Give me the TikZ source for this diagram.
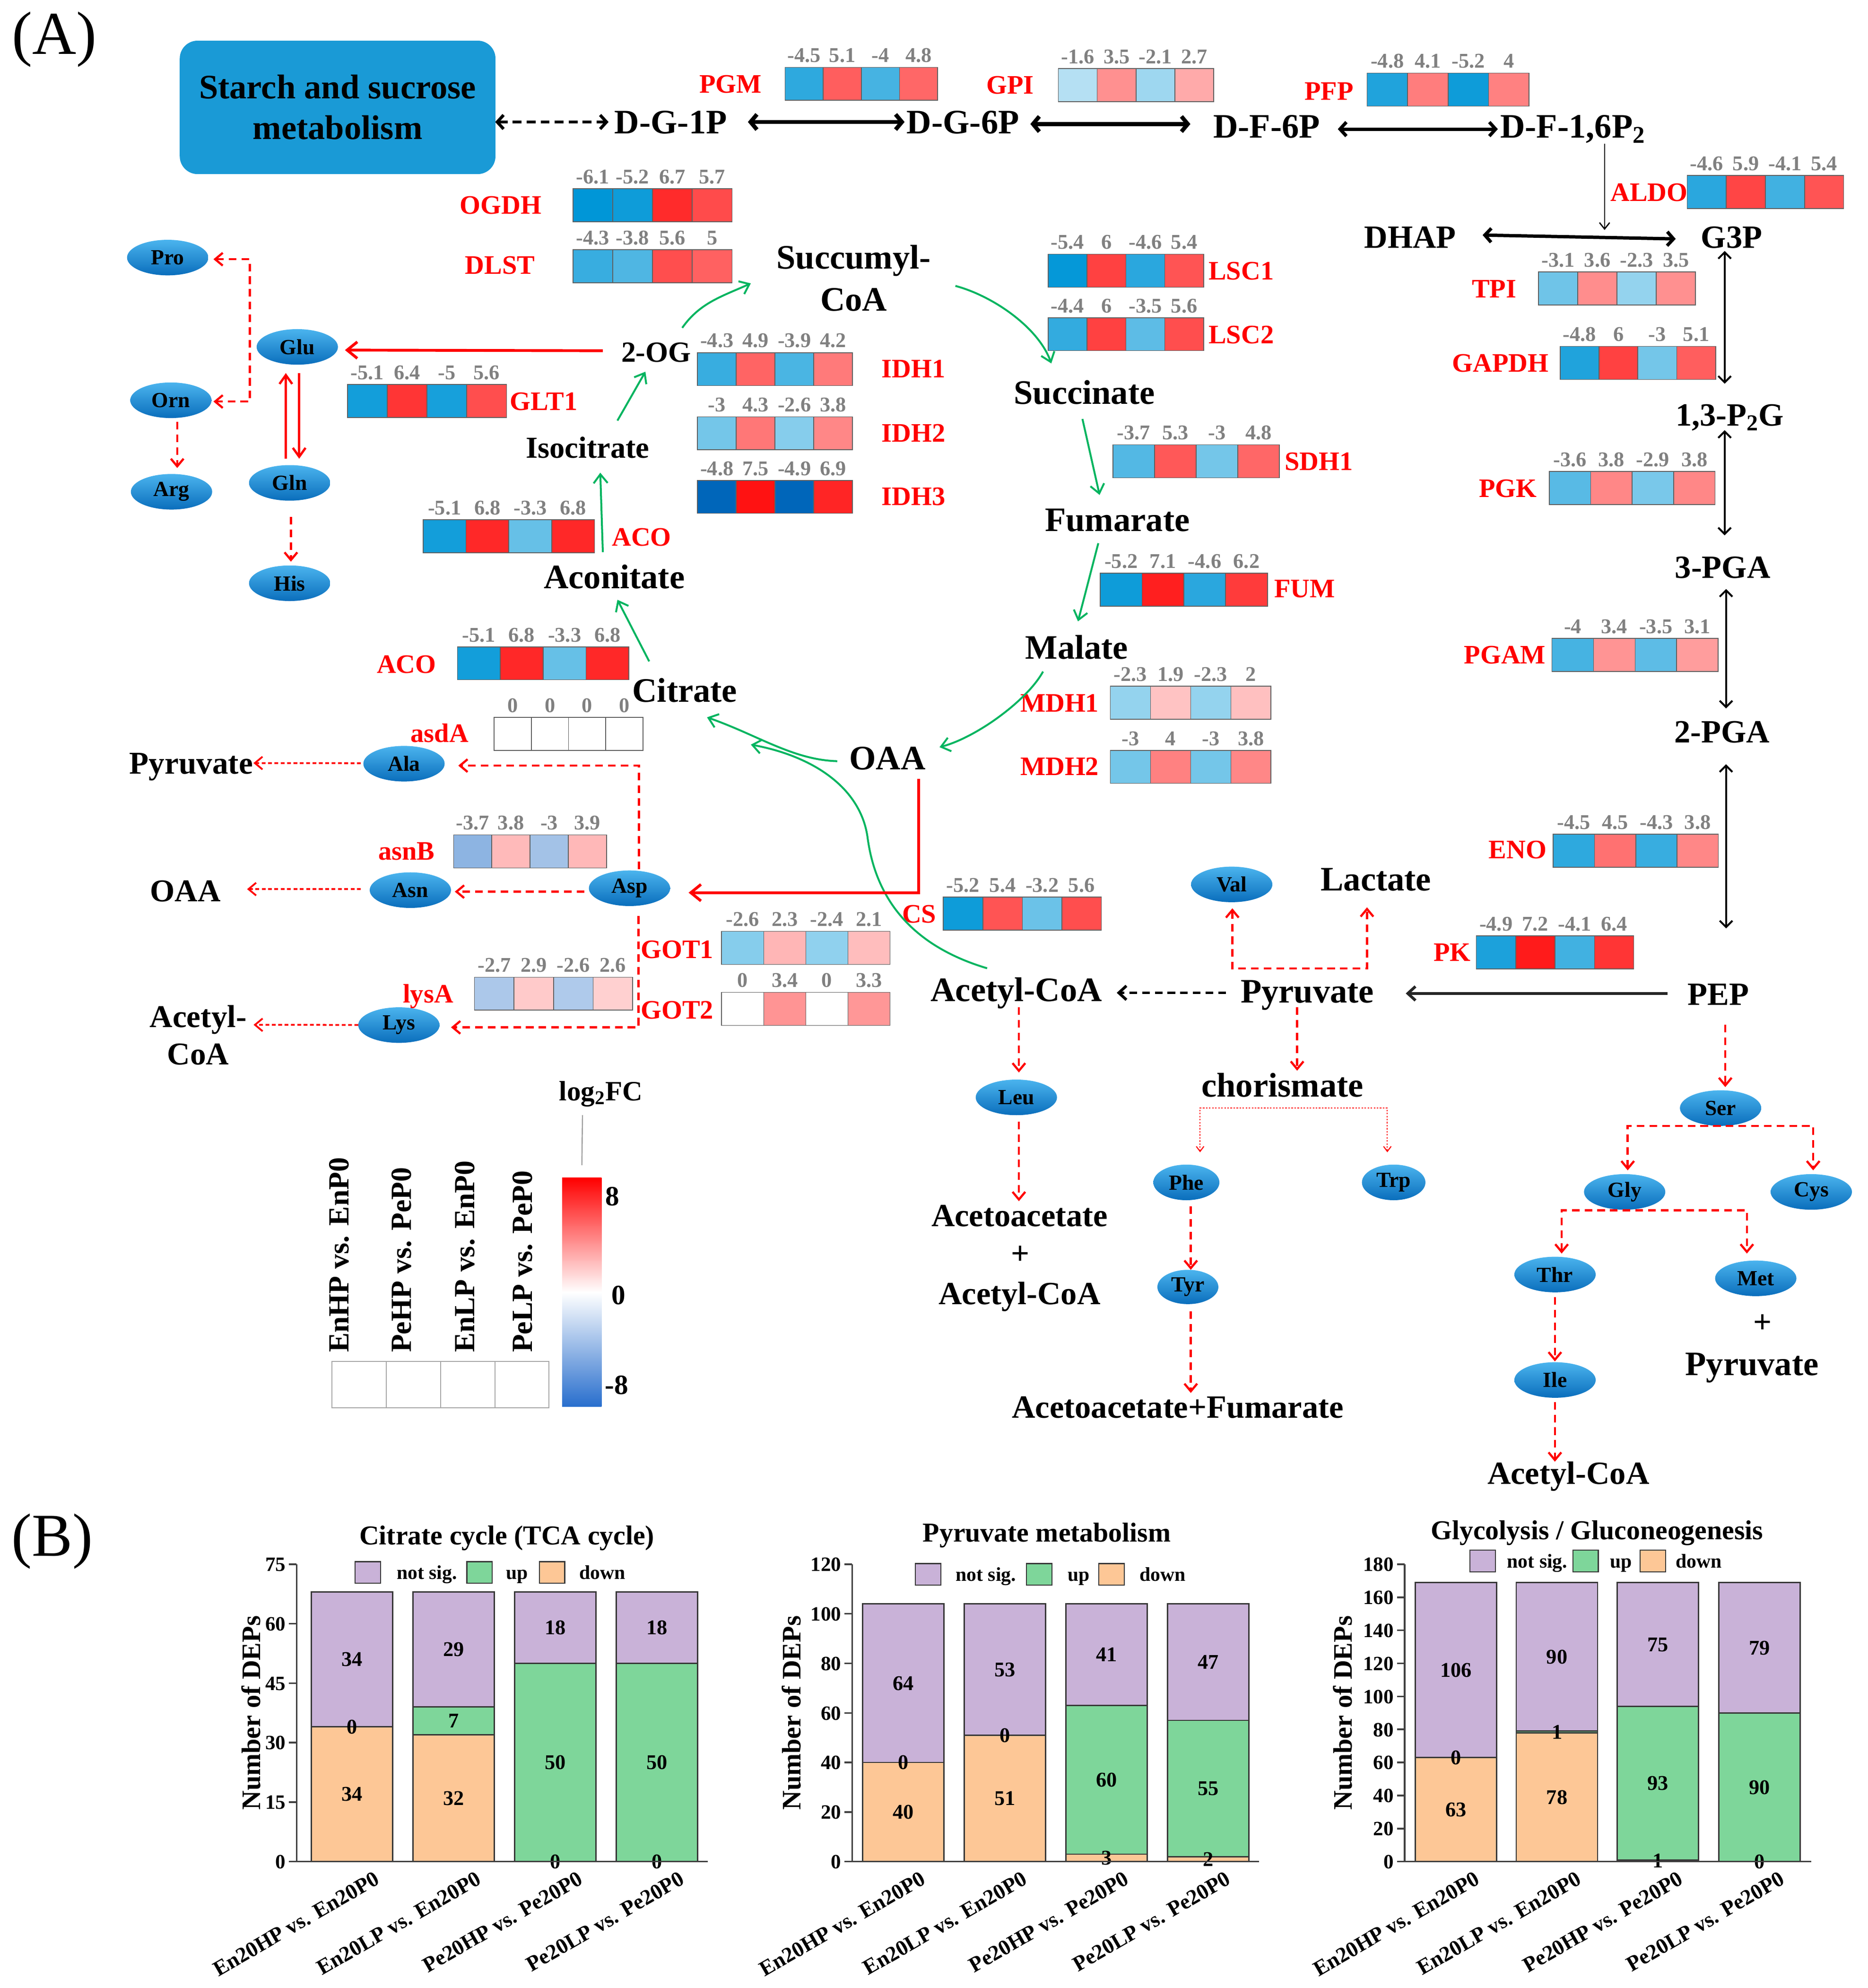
\documentclass[tikz,border=0pt]{standalone}
\usepackage{fontspec}
\setmainfont{Liberation Serif}
\usetikzlibrary{arrows.meta,shapes.geometric,calc}

\newcommand{\fsz}[1]{\fontsize{#1}{#1}\selectfont}
\definecolor{hmred}{RGB}{255,18,18}
\definecolor{hmblue}{RGB}{0,150,215}
\definecolor{hmline}{RGB}{95,95,95}
\definecolor{hmgray}{RGB}{128,128,128}
\definecolor{tcagreen}{RGB}{0,180,95}
\definecolor{starchblue}{RGB}{26,154,214}
\definecolor{aatop}{RGB}{75,180,238}
\definecolor{aabot}{RGB}{10,110,188}
\definecolor{cns}{RGB}{201,178,216}
\definecolor{cup}{RGB}{126,214,154}
\definecolor{cdown}{RGB}{253,199,150}
\definecolor{barlinec}{RGB}{55,55,55}
\definecolor{cbred}{RGB}{255,0,0}
\definecolor{cbblue}{RGB}{40,110,205}

\newcommand{\hmbs}{5.5}
\newcommand{\hmrs}{7.5}
\newcommand{\hmsetcc}[1]{%
  \pgfmathsetmacro{\hmp}{min(100,abs(#1)/\hmrs*100)}%
  \pgfmathsetmacro{\hmq}{min(100,abs(#1)/\hmbs*100)}%
  \ifdim #1pt>0pt\relax\colorlet{hmc}{hmred!\hmp!white}\else\colorlet{hmc}{hmblue!\hmq!white}\fi}
\newcommand{\hmap}[8]{%
  \foreach \hi/\hv in {1/#5,2/#6,3/#7,4/#8}{%
    \hmsetcc{\hv}%
    \node[hmcell, minimum width=#4, fill=hmc, anchor=north west] (#1c\hi) at ({#2+(\hi-1)*#4},#3) {};
    \node[hmval, anchor=base] (#1v\hi) at ([yshift=4pt]#1c\hi.north) {\hv};
  }}
\newcommand{\stkbar}[7]{%
  \pgfmathsetmacro{\sbA}{1465-(#5)*(#4)}%
  \pgfmathsetmacro{\sbB}{1465-(#5+#6)*(#4)}%
  \pgfmathsetmacro{\sbC}{1465-(#5+#6+#7)*(#4)}%
  \pgfmathsetmacro{\sbX}{#2+#3/2}%
  \pgfmathsetmacro{\sbR}{#2+#3}%
  \draw[barbox, fill=cdown] (#2,1465) rectangle (\sbR,\sbA);
  \draw[barbox, fill=cup] (#2,\sbA) rectangle (\sbR,\sbB);
  \draw[barbox, fill=cns] (#2,\sbB) rectangle (\sbR,\sbC);
  \node[barnum] (#1d) at (\sbX,{(1465+\sbA)/2}) {#5};
  \node[barnum] (#1u) at (\sbX,{(\sbA+\sbB)/2}) {#6};
  \node[barnum] (#1n) at (\sbX,{(\sbB+\sbC)/2}) {#7};
}
\newcommand{\chaxis}[5]{%
  \draw[axisl] (#2,1231) -- (#2,1465) -- (#3,1465);
  \foreach \tk in {0,#4,...,#5}{%
    \pgfmathsetmacro{\tky}{1465-(\tk/#5)*234}%
    \draw[axisl] (#2,\tky) -- ++(-6,0) node[ticklab, anchor=east] (#1t\tk) {\tk};}}

\tikzset{
  met/.style={font=\bfseries\fsz{27}, inner sep=0pt, text height=19pt, text depth=1pt},
  metb/.style={font=\bfseries\fsz{25.5}, inner sep=0pt, text height=18pt, text depth=1pt},
  metml/.style={align=center, inner sep=0pt},
  enz/.style={font=\bfseries\fsz{21}, text=red, inner sep=0pt, text height=14pt, text depth=0.5pt},
  hmcell/.style={draw=hmline, line width=0.6pt, minimum height=26, inner sep=0pt, outer sep=0pt},
  hmval/.style={font=\bfseries\fsz{16.5}, text=hmgray, inner sep=0pt},
  aa/.style={ellipse, minimum width=64, minimum height=28, inner sep=0pt, top color=aatop, bottom color=aabot, font=\bfseries\fsz{17}},
  starchbox/.style={rounded corners=14pt, fill=starchblue, minimum width=248.5, minimum height=105, align=center, inner sep=0pt, font=\bfseries\fontsize{27}{32}\selectfont},
  panel/.style={font=\fsz{48}, inner sep=0pt, text height=34pt, text depth=10pt},
  garr/.style={draw=tcagreen, line width=1.5pt, >={Straight Barb[length=7pt,width=11pt]}, ->},
  rsolid/.style={draw=red, line width=2.2pt, >={Straight Barb[length=8pt,width=13pt]}, ->},
  rthin/.style={draw=red, line width=1.8pt, >={Straight Barb[length=7pt,width=10pt]}, ->},
  rdash/.style={draw=red, line width=1.7pt, dash pattern=on 6pt off 4pt, >={Straight Barb[length=6pt,width=10pt]}, ->},
  rfine/.style={draw=red, line width=1.4pt, dash pattern=on 3pt off 2pt, >={Straight Barb[length=6pt,width=10pt]}, ->},
  rdot/.style={draw=red, line width=0.8pt, dash pattern=on 1.2pt off 1.2pt, >={Straight Barb[length=4pt,width=6pt]}, ->},
  bthick/.style={draw=black, line width=3.2pt, >={Straight Barb[length=5pt,width=12pt]}, <->},
  bmid/.style={draw=black, line width=2.6pt, >={Straight Barb[length=5pt,width=11pt]}, <->},
  bvert/.style={draw=black, line width=1.5pt, >={Straight Barb[length=5pt,width=10pt]}, <->},
  bthin/.style={draw=black, line width=1pt, >={Straight Barb[length=5pt,width=8pt]}, ->},
  bdashed/.style={draw=black, line width=2.4pt, dash pattern=on 7pt off 4pt, >={Straight Barb[length=5pt,width=11pt]}, <->},
  bsolid/.style={draw=black!85, line width=2.2pt, >={Straight Barb[length=6pt,width=11pt]}, ->},
  bdash/.style={draw=black, line width=2.2pt, dash pattern=on 6pt off 4pt, >={Straight Barb[length=6pt,width=11pt]}, ->},
  barbox/.style={draw=barlinec, line width=1pt},
  barnum/.style={font=\bfseries\fsz{16.5}, inner sep=0pt, text height=11pt, text depth=0pt},
  axisl/.style={draw=black!75, line width=1.3pt},
  ticklab/.style={font=\bfseries\fsz{16}, inner sep=2pt, text height=11pt, text depth=0pt},
  ylab/.style={font=\bfseries\fsz{21}, rotate=90, inner sep=0pt},
  xlab/.style={font=\bfseries\fsz{17}, rotate=30, anchor=north east, inner sep=0pt},
  ctitle/.style={font=\bfseries\fsz{21.5}, inner sep=0pt, text height=15pt, text depth=0pt},
  legsq/.style={draw=barlinec, line width=0.8pt, minimum width=20, minimum height=17, inner sep=0pt},
  legtxt/.style={font=\bfseries\fsz{15.5}, inner sep=0pt, text height=10.5pt, text depth=0pt},
  collab/.style={font=\bfseries\fsz{23}, rotate=90, anchor=west, inner sep=0pt},
  legcell/.style={draw=gray!70, line width=0.8pt, minimum width=42.7, minimum height=36.5, inner sep=0pt, anchor=north west},
}

\begin{document}
\begin{tikzpicture}[x=1pt,y=-1pt]
\useasboundingbox (0,0) rectangle (1470,1564.5);
\fill[white] (0,0) rectangle (1470,1564.5);

% ---------------- panel A ----------------
\node[panel] (labA) at (42.8,30.5) {(A)};
\node[starchbox] (starch) at (265.75,84.5) {Starch and sucrose\\metabolism};

% heatmaps
\hmap{PGM}{618}{53}{30}{-4.5}{5.1}{-4}{4.8}
\hmap{GPI}{833}{54}{30.6}{-1.6}{3.5}{-2.1}{2.7}
\hmap{PFP}{1076}{57.5}{31.9}{-4.8}{4.1}{-5.2}{4}
\hmap{ALDO}{1328}{138}{30.8}{-4.6}{5.9}{-4.1}{5.4}
\hmap{OGDH}{451}{148.5}{31.3}{-6.1}{-5.2}{6.7}{5.7}
\hmap{DLST}{451}{196.5}{31.3}{-4.3}{-3.8}{5.6}{5}
\hmap{LSCa}{825}{200}{30.6}{-5.4}{6}{-4.6}{5.4}
\hmap{LSCb}{825}{250}{30.6}{-4.4}{6}{-3.5}{5.6}
\hmap{IDHa}{549}{277.5}{30.5}{-4.3}{4.9}{-3.9}{4.2}
\hmap{IDHb}{549}{328}{30.5}{-3}{4.3}{-2.6}{3.8}
\begingroup
\renewcommand{\hmbs}{4.6}\definecolor{hmblue}{RGB}{0,102,186}
\hmap{IDHc}{549}{378}{30.5}{-4.8}{7.5}{-4.9}{6.9}
\endgroup
\hmap{SDH}{876}{350}{32.75}{-3.7}{5.3}{-3}{4.8}
\hmap{FUM}{866}{451}{32.9}{-5.2}{7.1}{-4.6}{6.2}
\hmap{MDHa}{874}{540}{31.6}{-2.3}{1.9}{-2.3}{2}
\hmap{MDHb}{874}{590.5}{31.6}{-3}{4}{-3}{3.8}
\hmap{ACOa}{333}{409}{33.75}{-5.1}{6.8}{-3.3}{6.8}
\hmap{ACOb}{360}{509}{33.75}{-5.1}{6.8}{-3.3}{6.8}
\hmap{asdA}{389}{564.5}{29.25}{0}{0}{0}{0}
\begingroup
\renewcommand{\hmrs}{13}\renewcommand{\hmbs}{3.7}\definecolor{hmblue}{RGB}{141,180,226}
\hmap{asnB}{357}{657}{30.1}{-3.7}{3.8}{-3}{3.9}
\hmap{lysA}{373.5}{769}{31.1}{-2.7}{2.9}{-2.6}{2.6}
\endgroup
\hmap{GOTa}{568}{733}{33.15}{-2.6}{2.3}{-2.4}{2.1}
\hmap{GOTb}{568}{781}{33.15}{0}{3.4}{0}{3.3}
\hmap{CS}{742.5}{706}{31.1}{-5.2}{5.4}{-3.2}{5.6}
\hmap{GLT}{273.5}{302.6}{31.3}{-5.1}{6.4}{-5}{5.6}
\hmap{TPI}{1211}{214}{30.9}{-3.1}{3.6}{-2.3}{3.5}
\hmap{GAPDH}{1228}{272.6}{30.6}{-4.8}{6}{-3}{5.1}
\hmap{PGK}{1219.4}{371}{32.65}{-3.6}{3.8}{-2.9}{3.8}
\hmap{PGAM}{1221.6}{502.4}{32.7}{-4}{3.4}{-3.5}{3.1}
\hmap{ENO}{1222.5}{656.5}{32.5}{-4.5}{4.5}{-4.3}{3.8}
\hmap{PK}{1162}{736.5}{31}{-4.9}{7.2}{-4.1}{6.4}

% enzyme labels
\node[enz] (lPGM) at (575,66.5) {PGM};
\node[enz] (lGPI) at (795,67) {GPI};
\node[enz] (lPFP) at (1046,72) {PFP};
\node[enz] (lALDO) at (1298,151.5) {ALDO};
\node[enz] (lOGDH) at (394,161.5) {OGDH};
\node[enz] (lDLST) at (393.5,209) {DLST};
\node[enz] (lLSCa) at (977,213.5) {LSC1};
\node[enz] (lLSCb) at (977,263.5) {LSC2};
\node[enz] (lIDHa) at (719,290.5) {IDH1};
\node[enz] (lIDHb) at (719,341) {IDH2};
\node[enz] (lIDHc) at (719,391) {IDH3};
\node[enz] (lSDH) at (1038,363.5) {SDH1};
\node[enz] (lFUM) at (1027,463.5) {FUM};
\node[enz] (lMDHa) at (834,553.5) {MDH1};
\node[enz] (lMDHb) at (834,603.5) {MDH2};
\node[enz] (lACOa) at (505,423) {ACO};
\node[enz] (lACOb) at (320,523) {ACO};
\node[enz] (lasdA) at (346,577.5) {asdA};
\node[enz] (lasnB) at (320,670) {asnB};
\node[enz] (llysA) at (337,782.5) {lysA};
\node[enz] (lGOTa) at (533,747.5) {GOT1};
\node[enz] (lGOTb) at (533,795) {GOT2};
\node[enz] (lCS) at (723.5,719.5) {CS};
\node[enz] (lGLT) at (428,316) {GLT1};
\node[enz] (lTPI) at (1176,227.5) {TPI};
\node[enz] (lGAPDH) at (1181,286) {GAPDH};
\node[enz] (lPGK) at (1187,384.5) {PGK};
\node[enz] (lPGAM) at (1184.5,515.5) {PGAM};
\node[enz] (lENO) at (1194.5,669) {ENO};
\node[enz] (lPK) at (1143,749.5) {PK};

% metabolites
\node[met] (dg1p) at (528,96) {D-G-1P};
\node[met] (dg6p) at (758,96) {D-G-6P};
\node[met] (df6p) at (997,99.5) {D-F-6P};
\node[met] (df16p) at (1238,99.5) {D-F-1,6P\textsubscript{2}};
\node[metb] (dhap) at (1110,186.5) {DHAP};
\node[metb] (g3p) at (1363,186.5) {G3P};
\node[metb] (p13) at (1361.5,326.5) {1,3-P\textsubscript{2}G};
\node[metb] (pga3) at (1356,446.5) {3-PGA};
\node[metb] (pga2) at (1355.5,576) {2-PGA};
\node[metb] (pep) at (1352.5,782.5) {PEP};
\node[met] (pyr) at (1029,780) {Pyruvate};
\node[met] (accoa) at (800,779) {Acetyl-CoA};
\node[met] (lact) at (1083,692) {Lactate};
\node[metml, font=\bfseries\fontsize{27}{33}\selectfont] (succoa) at (672,219) {Succumyl-\\CoA};
\node[met, font=\bfseries\fsz{23}] (og2) at (516.5,276) {2-OG};
\node[met, font=\bfseries\fsz{24}] (isocit) at (462.5,351.5) {Isocitrate};
\node[met] (aconit) at (483.5,454) {Aconitate};
\node[met] (citrate) at (539,543.5) {Citrate};
\node[met] (oaa) at (698.5,596.5) {OAA};
\node[met] (succ) at (853.5,309) {Succinate};
\node[met] (fum) at (879.5,409) {Fumarate};
\node[met] (malate) at (847.5,509.5) {Malate};
\node[metb, font=\bfseries\fsz{25}] (pyrL) at (150.5,600.5) {Pyruvate};
\node[metb, font=\bfseries\fsz{25}] (oaaL) at (146,701) {OAA};
\node[metml, font=\bfseries\fontsize{25}{29.5}\selectfont] (accoaL) at (156,814.5) {Acetyl-\\CoA};
\node[met] (chor) at (1009.5,854) {chorismate};
\node[metb] (acac) at (802.5,956.5) {Acetoacetate};
\node[metb] (plus1) at (803,986.5) {+};
\node[metb] (accoa2) at (802.5,1018) {Acetyl-CoA};
\node[metb] (aaf) at (927,1107.5) {Acetoacetate+Fumarate};
\node[metb] (plus2) at (1387.5,1040.5) {+};
\node[met] (pyr3) at (1379,1073.5) {Pyruvate};
\node[metb] (accoa3) at (1234.5,1159.5) {Acetyl-CoA};

% amino acids
\foreach \nm/\px/\py in {Pro/132/202.7, Glu/234/273, Orn/134.5/315, Arg/135/387, Gln/228/380, His/228/459,
  Ala/318/601, Asn/323/700.5, Asp/495.5/699, Lys/314/806.7, Val/969.5/696, Leu/800/863.6,
  Ser/1354.3/872, Gly/1278.8/938, Cys/1425.7/938, Thr/1224/1003, Met/1382/1006, Ile/1224/1086}
  {\node[aa] (\nm) at (\px,\py) {\nm};}
\node[aa, minimum width=52] (Phe) at (933.8,930.5) {Phe};
\node[aa, minimum width=50] (Trp) at (1097,930.5) {Trp};
\node[aa, minimum width=48, minimum height=27] (Tyr) at (935,1012.8) {Tyr};

% black glycolysis connectors
\draw[bdashed] ($(starch)+(124,11.5)$) -- ($(dg1p)+(-49,0)$);
\draw[bthick] ($(dg1p)+(60.7,0)$) -- ($(dg6p)+(-46,0)$);
\draw[bthick] ($(dg6p)+(53,1.6)$) -- ($(df6p)+(-60,-1.9)$);
\draw[bmid] ($(df6p)+(56,2.1)$) -- ($(df16p)+(-59,2.1)$);
\coordinate (aldoj) at ($(dhap)+(153,-5.5)$);
\draw[bthin] ($(df16p)+(25,13.5)$) -- (aldoj);
\draw[bmid] ($(dhap)+(57,-1.5)$) -- ($(g3p)+(-44,1.5)$);
\draw[bvert] ($(g3p)+(-5.5,11)$) -- ($(p13)+(-4,-24.5)$);
\draw[bvert] ($(p13)+(-4,12)$) -- ($(pga3)+(1.5,-25.2)$);
\draw[bvert] ($(pga3)+(2.6,17)$) -- ($(pga2)+(3.1,-18.5)$);
\draw[bvert] ($(pga2)+(3.1,25.4)$) -- ($(pep)+(6.1,-51.9)$);
\draw[bsolid] ($(pep)+(-40,-0.7)$) -- ($(pyr)+(77.5,1.8)$);
\draw[bdash] ($(pyr)+(-64,1.3)$) -- ($(accoa)+(79,2.3)$);

% green TCA connectors
\draw[garr] ($(og2)+(20.5,-18)$) .. controls +(14,-20) and +(-22,10) .. ($(succoa)+(-81,4)$);
\draw[garr] ($(isocit)+(23.5,-20.5)$) -- ($(og2)+(-8.5,16.5)$);
\draw[garr] ($(aconit)+(-9,-19.5)$) -- ($(isocit)+(10,20.5)$);
\draw[garr] ($(citrate)+(-28,-23)$) -- ($(aconit)+(2.5,18)$);
\draw[garr] ($(oaa)+(-39.5,2.5)$) .. controls +(-35,-1) and +(40,14) .. ($(citrate)+(17.5,21)$);
\coordinate (tcamerge) at ($(citrate)+(52,42.5)$);
\draw[garr] ($(accoa)+(-23,-17)$) .. controls (720,745) and (690,710) .. (683,660) .. controls (678,620) and (640,595) .. (tcamerge);
\draw[garr] ($(malate)+(-26.5,19)$) .. controls +(-12,22) and +(30,-8) .. ($(oaa)+(41,-8.5)$);
\draw[garr] ($(fum)+(-15,18.5)$) -- ($(malate)+(1,-20.5)$);
\draw[garr] ($(succ)+(-1.5,20.7)$) -- ($(fum)+(-14,-19.5)$);
\draw[garr] ($(succoa)+(80,6)$) .. controls +(30,8) and +(-10,-28) .. ($(succ)+(-26,-23)$);

% red solid connectors
\draw[rsolid] ($(og2)+(-42,0)$) -- ($(Glu)+(37.5,2.5)$);
\draw[rthin] ($(Gln)+(-3,-19)$) -- ($(Glu)+(-9,20.6)$);
\draw[rthin] ($(Glu)+(1.5,20.6)$) -- ($(Gln)+(7.5,-19)$);
\draw[rsolid] ($(oaa)+(24.5,16.3)$) |- ($(Asp)+(46.5,3.5)$);

% red dashed connectors
\draw[rdash,<->] ($(Pro)+(36,1.3)$) -| ($(Glu)+(-37.3,0)$) |- ($(Orn)+(33.5,1)$);
\draw[rdash] ($(Orn)+(5,17)$) -- ($(Arg)+(4.5,-18.7)$);
\draw[rdash] ($(Gln)+(1,26.8)$) -- ($(His)+(1,-17)$);
\draw[rdash] ($(Asp)+(-35.5,2.7)$) -- ($(Asn)+(35,1.2)$);
\draw[rdash] ($(Asp)+(7.5,-15)$) |- ($(Ala)+(42.7,1.5)$);
\draw[rdash] ($(Asp)+(7,22)$) |- ($(Lys)+(41,1.8)$);
\draw[rfine] ($(Ala)+(-34,-0.4)$) -- ($(pyrL)+(49,0)$);
\draw[rfine] ($(Asn)+(-39,-0.8)$) -- ($(oaaL)+(48.5,-1.3)$);
\draw[rfine] ($(Lys)+(-32,-0.1)$) -- ($(accoaL)+(43.6,-8)$);
\draw[rdash,<->] ($(Val)+(0.5,18.8)$) |- ($(pyr)+(0,-17.8)$) -| ($(lact)+(-7,22)$);
\draw[rdash] ($(accoa)+(2,13.7)$) -- ($(Leu)+(2,-19.6)$);
\draw[rdash] ($(Leu)+(2,19)$) -- ($(acac)+(-0.5,-11.2)$);
\draw[rdash] ($(pyr)+(-8,12.7)$) -- ($(chor)+(11.5,-11.4)$);
\draw[rdot,<->] ($(Phe)+(10.8,-23.7)$) |- ($(chor)+(0,18)$) -| ($(Trp)+(-5,-23.7)$);
\draw[rdash] ($(Phe)+(3.5,18.9)$) -- ($(Tyr)+(2.3,-13.5)$);
\draw[rdash] ($(Tyr)+(2.3,19.2)$) -- ($(aaf)+(10.3,-11.3)$);
\draw[rdash] ($(pep)+(5.5,24)$) -- ($(Ser)+(3.7,-16.5)$);
\draw[rdash,<->] ($(Gly)+(2.4,-17)$) |- ($(Ser)+(0,14)$) -| ($(Cys)+(1.5,-17)$);
\draw[rdash,<->] ($(Thr)+(5.2,-16.5)$) |- ($(Gly)+(0,14.4)$) -| ($(Met)+(-7,-19.5)$);
\draw[rdash] ($(Thr)+(-0.1,17.7)$) -- ($(Ile)+(-0.1,-14.6)$);
\draw[rdash] ($(Ile)+(-0.1,17.3)$) -- ($(accoa3)+(-10.6,-9.2)$);

% legend of heatmap
\node[font=\bfseries\fsz{22}, inner sep=0pt] (lfc) at (473,861) {log\textsubscript{2}FC};
\shade[top color=cbred, bottom color=white] (442.5,927) rectangle (473.5,1017);
\shade[top color=white, bottom color=cbblue] (442.5,1017) rectangle (473.5,1107);
\node[minimum width=31, minimum height=180, inner sep=0pt, outer sep=0pt] (cbar) at (458,1017) {};
\draw[gray!75, line width=0.9pt] ($(lfc)+(-14.5,16.6)$) -- ($(cbar.north)+(0,-10)$);
\node[font=\bfseries\fsz{22}, inner sep=0pt] (cb8) at (482,941.5) {8};
\node[font=\bfseries\fsz{22}, inner sep=0pt] (cb0) at (487,1019.5) {0};
\node[font=\bfseries\fsz{22}, inner sep=0pt] (cbm) at (485.5,1090) {-8};
\node[collab] (cla) at (267,1064.5) {EnHP vs. EnP0};
\node[collab] (clb) at (316,1064.5) {PeHP vs. PeP0};
\node[collab] (clc) at (366,1064.5) {EnLP vs. EnP0};
\node[collab] (cld) at (411.4,1064.5) {PeLP vs. PeP0};
\foreach \k in {0,1,2,3}{\node[legcell] (lgc\k) at ({261+\k*42.7},1071) {};}

% ---------------- panel B ----------------
\node[panel] (labB) at (41,1212.5) {(B)};

% chart 1
\node[ctitle] (c1title) at (399,1208) {Citrate cycle (TCA cycle)};
\node[legsq, fill=cns] (c1q1) at (289.5,1237.5) {};
\node[legtxt] (c1l1) at (336,1237.5) {not sig.};
\node[legsq, fill=cup] (c1q2) at (377.5,1237.5) {};
\node[legtxt] (c1l2) at (407,1237.5) {up};
\node[legsq, fill=cdown] (c1q3) at (434.5,1237.5) {};
\node[legtxt] (c1l3) at (474,1237.5) {down};
\stkbar{c1b1}{245}{64}{3.12}{34}{0}{34}
\stkbar{c1b2}{325}{64}{3.12}{32}{7}{29}
\stkbar{c1b3}{405}{64}{3.12}{0}{50}{18}
\stkbar{c1b4}{485}{64}{3.12}{0}{50}{18}
\chaxis{c1}{233.5}{557}{15}{75}
\node[ylab] (c1y) at (197.6,1348) {Number of DEPs};
\node[xlab] (c1x1) at (294,1472) {En20HP vs. En20P0};
\node[xlab] (c1x2) at (374,1472) {En20LP vs. En20P0};
\node[xlab] (c1x3) at (454,1472) {Pe20HP vs. Pe20P0};
\node[xlab] (c1x4) at (534,1472) {Pe20LP vs. Pe20P0};

% chart 2
\node[ctitle] (c2title) at (824,1206) {Pyruvate metabolism};
\node[legsq, fill=cns] (c2q1) at (730.5,1239) {};
\node[legtxt] (c2l1) at (776,1239) {not sig.};
\node[legsq, fill=cup] (c2q2) at (818,1239) {};
\node[legtxt] (c2l2) at (849,1239) {up};
\node[legsq, fill=cdown] (c2q3) at (875,1239) {};
\node[legtxt] (c2l3) at (915,1239) {down};
\stkbar{c2b1}{679}{64}{1.95}{40}{0}{64}
\stkbar{c2b2}{759}{64}{1.95}{51}{0}{53}
\stkbar{c2b3}{839}{64}{1.95}{3}{60}{41}
\stkbar{c2b4}{919}{64}{1.95}{2}{55}{47}
\chaxis{c2}{670.7}{991}{20}{120}
\node[ylab] (c2y) at (623,1348) {Number of DEPs};
\node[xlab] (c2x1) at (724,1472) {En20HP vs. En20P0};
\node[xlab] (c2x2) at (804,1472) {En20LP vs. En20P0};
\node[xlab] (c2x3) at (884,1472) {Pe20HP vs. Pe20P0};
\node[xlab] (c2x4) at (964,1472) {Pe20LP vs. Pe20P0};

% chart 3
\node[ctitle] (c3title) at (1257,1204) {Glycolysis / Gluconeogenesis};
\node[legsq, fill=cns] (c3q1) at (1167,1228.5) {};
\node[legtxt] (c3l1) at (1210,1228.5) {not sig.};
\node[legsq, fill=cup] (c3q2) at (1248,1228.5) {};
\node[legtxt] (c3l2) at (1276,1228.5) {up};
\node[legsq, fill=cdown] (c3q3) at (1301,1228.5) {};
\node[legtxt] (c3l3) at (1337,1228.5) {down};
\stkbar{c3b1}{1114}{64}{1.3}{63}{0}{106}
\stkbar{c3b2}{1193.5}{64}{1.3}{78}{1}{90}
\stkbar{c3b3}{1273}{64}{1.3}{1}{93}{75}
\stkbar{c3b4}{1353}{64}{1.3}{0}{90}{79}
\chaxis{c3}{1105.7}{1425.5}{20}{180}
\node[ylab] (c3y) at (1056.7,1348) {Number of DEPs};
\node[xlab] (c3x1) at (1160,1472) {En20HP vs. En20P0};
\node[xlab] (c3x2) at (1240,1472) {En20LP vs. En20P0};
\node[xlab] (c3x3) at (1320,1472) {Pe20HP vs. Pe20P0};
\node[xlab] (c3x4) at (1400,1472) {Pe20LP vs. Pe20P0};
\end{tikzpicture}
\end{document}
